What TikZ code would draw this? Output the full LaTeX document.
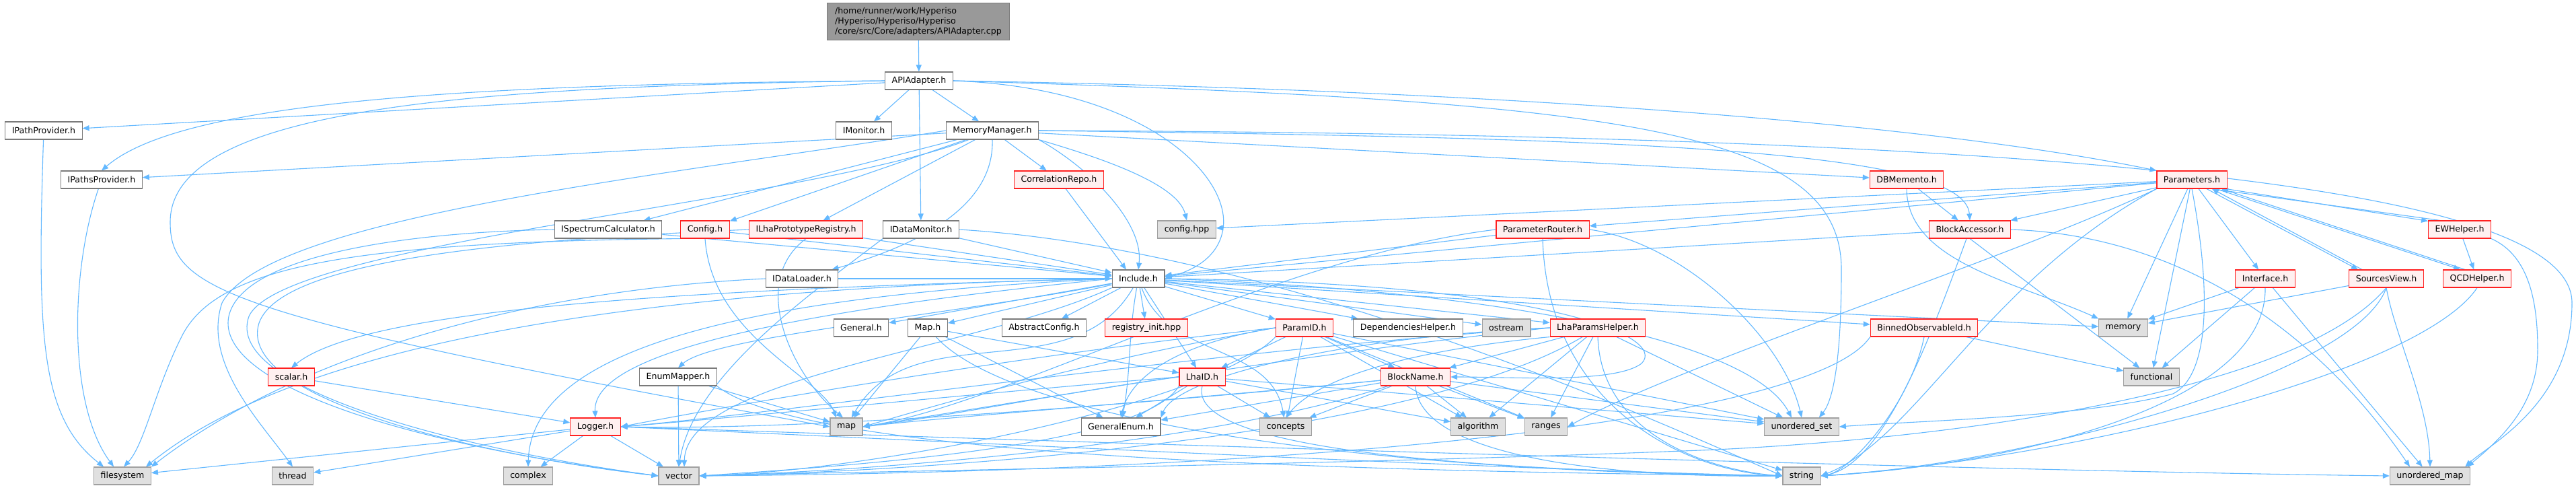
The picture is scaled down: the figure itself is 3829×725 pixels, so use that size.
\documentclass[tikz,border=0pt]{standalone}
\usepackage{fontspec}
\setmainfont{DejaVu Sans}
\usetikzlibrary{arrows.meta}
\definecolor{edgec}{HTML}{63B8FF}
\definecolor{boxline}{HTML}{7A7A7A}
\definecolor{redline}{HTML}{FF2020}
\definecolor{redfill}{HTML}{FFF0F0}
\definecolor{sysline}{HTML}{A0A0A0}
\definecolor{sysfill}{HTML}{E0E0E0}
\definecolor{rootfill}{HTML}{999999}
\pgfdeclarelayer{edges}
\pgfsetlayers{edges,main}
\tikzset{
  box/.style={draw=boxline, fill=white, line width=1.1pt, minimum height=26pt, inner xsep=10pt, inner ysep=0pt, font=\fontsize{12.6}{15}\selectfont},
  redbox/.style={box, draw=redline, fill=redfill},
  sysbox/.style={box, draw=sysline, fill=sysfill},
  rootbox/.style={box, draw=boxline, fill=rootfill, minimum height=55pt, align=left, inner xsep=12pt},
  e/.style={draw=edgec, line width=1.1pt, -{Triangle[length=10pt,width=8pt]}},
}
\begin{document}
\begin{tikzpicture}[x=1pt,y=1pt]
\useasboundingbox (0,0) rectangle (3829,-725);
% nodes
\node[rootbox] (top) at (1365,-32) {/home/runner/work/Hyperiso\\/Hyperiso/Hyperiso/Hyperiso\\/core/src/Core/adapters/APIAdapter.cpp};
\node[box] (api) at (1366,-120) {APIAdapter.h};
\node[box] (ipp) at (65,-194) {IPathProvider.h};
\node[box] (imon) at (1284,-194) {IMonitor.h};
\node[box] (mm) at (1475,-194) {MemoryManager.h};
\node[box] (ipps) at (151,-267) {IPathsProvider.h};
\node[redbox] (corr) at (1574,-267) {CorrelationRepo.h};
\node[redbox] (dbm) at (2834,-267) {DBMemento.h};
\node[redbox] (par) at (3258,-267) {Parameters.h};
\node[box] (isc) at (904,-341) {ISpectrumCalculator.h};
\node[redbox] (cfg) at (1048,-341) {Config.h};
\node[redbox] (ilha) at (1198,-341) {ILhaPrototypeRegistry.h};
\node[box] (idm) at (1369,-341) {IDataMonitor.h};
\node[sysbox] (chpp) at (1764,-341) {config.hpp};
\node[redbox] (prouter) at (2293,-341) {ParameterRouter.h};
\node[redbox] (bacc) at (2928,-341) {BlockAccessor.h};
\node[redbox] (ew) at (3656,-341) {EWHelper.h};
\node[box] (idl) at (1192,-414) {IDataLoader.h};
\node[box] (inc) at (1692,-414) {Include.h};
\node[redbox] (iface) at (3367,-414) {Interface.h};
\node[redbox] (sv) at (3547,-414) {SourcesView.h};
\node[redbox] (qcd) at (3682,-414) {QCDHelper.h};
\node[box] (gen) at (1280,-487) {General.h};
\node[box] (maph) at (1379,-487) {Map.h};
\node[box] (absc) at (1552,-487) {AbstractConfig.h};
\node[redbox] (reg) at (1704,-487) {registry\_init.hpp};
\node[redbox] (pid) at (1939,-487) {ParamID.h};
\node[box] (dep) at (2093,-487) {DependenciesHelper.h};
\node[sysbox] (ost) at (2239,-487) {ostream};
\node[redbox] (lpp) at (2375,-487) {LhaParamsHelper.h};
\node[redbox] (boi) at (2860,-487) {BinnedObservableId.h};
\node[sysbox] (mem) at (3156,-487) {memory};
\node[redbox] (scal) at (433,-560) {scalar.h};
\node[box] (enm) at (1008,-560) {EnumMapper.h};
\node[redbox] (lid) at (1787,-560) {LhaID.h};
\node[redbox] (bn) at (2104,-560) {BlockName.h};
\node[sysbox] (func) at (3198,-560) {functional};
\node[redbox] (log) at (885,-634) {Logger.h};
\node[sysbox] (map) at (1258,-634) {map};
\node[box] (genum) at (1666,-634) {GeneralEnum.h};
\node[sysbox] (conc) at (1911,-634) {concepts};
\node[sysbox] (alg) at (2197,-634) {algorithm};
\node[sysbox] (rng) at (2298,-634) {ranges};
\node[sysbox] (uset) at (2678,-634) {unordered\_set};
\node[sysbox] (fs) at (182,-707) {filesystem};
\node[sysbox] (thr) at (435,-707) {thread};
\node[sysbox] (cpx) at (785,-707) {complex};
\node[sysbox] (vec) at (1009,-707) {vector};
\node[sysbox] (str) at (2678,-707) {string};
\node[sysbox] (umap) at (3612,-707) {unordered\_map};

\begin{pgfonlayer}{edges}
\draw[e] (top) -- (api);
% APIAdapter
\draw[e] (api) -- (ipp);
\draw[e] (api.west) .. controls (700,-125) and (270,-150) .. (ipps.north);
\draw[e] (api.west) .. controls (700,-128) and (253,-160) .. (253,-330) .. controls (253,-430) and (330,-470) .. (map.west);
\draw[e] (api) -- (imon);
\draw[e] (api) -- (mm);
\draw[e] (api) -- (idm);
\draw[e] (api.east) .. controls (1700,-130) and (1830,-260) .. (1818,-340) .. controls (1810,-390) and (1760,-405) .. (inc.east);
\draw[e] (api.east) .. controls (2300,-135) and (2900,-190) .. (par.north west);
\draw[e] (api.east) .. controls (2400,-150) and (2737,-190) .. (2737,-400) .. controls (2737,-560) and (2720,-600) .. ([xshift=-30pt]uset.north east);
% providers
\draw[e] (ipp) .. controls (55,-500) and (60,-620) .. ([xshift=15pt]fs.north west);
\draw[e] (ipps) .. controls (105,-400) and (100,-600) .. ([xshift=30pt]fs.north west);
% MemoryManager
\draw[e] (mm) -- (ipps);
\draw[e] (mm) -- (isc);
\draw[e] (mm) -- (cfg);
\draw[e] (mm) -- (ilha);
\draw[e] (mm) -- (corr);
\draw[e] (mm.south east) .. controls (1620,-230) and (1750,-270) .. (chpp.north);
\draw[e] (mm.south east) .. controls (1620,-250) and (1700,-330) .. (inc.north);
\draw[e] (corr) -- ([xshift=-18pt]inc.north);
\draw[e] (mm) -- (dbm);
\draw[e] (mm.east) .. controls (2400,-205) and (2920,-220) .. (bacc.north);
\draw[e] (mm.east) .. controls (3200,-200) and (3823,-290) .. (3823,-450) .. controls (3823,-600) and (3700,-660) .. ([xshift=-8pt]umap.north east);
\draw[e] (mm.south) .. controls (1478,-300) and (1380,-360) .. ([xshift=-10pt]idl.north east);
\draw[e] (mm.west) .. controls (1000,-260) and (400,-320) .. (330,-450) .. controls (300,-540) and (390,-630) .. (thr.north);
\draw[e] (mm) .. controls (1200,-300) and (420,-360) .. (370,-470) .. controls (330,-580) and (700,-670) .. (vec.west);
% DBMemento
\draw[e] (dbm) -- (bacc);
\draw[e] (dbm.south) .. controls (2835,-390) and (3000,-420) .. (mem.north west);
% ISpectrumCalculator, Config, ILha, IDataMonitor, IDataLoader
\draw[e] (isc) -- (inc);
\draw[e] (isc.west) .. controls (600,-345) and (360,-380) .. (340,-470) .. controls (320,-570) and (600,-660) .. (vec.west);
\draw[e] (cfg) -- (inc);
\draw[e] (cfg.south west) .. controls (500,-360) and (320,-400) .. (270,-500) .. controls (230,-580) and (215,-660) .. ([xshift=45pt]fs.north west);
\draw[e] (cfg.south) .. controls (1058,-500) and (1220,-560) .. ([xshift=-15pt]map.north);
\draw[e] (ilha) -- (inc);
\draw[e] (ilha.west) .. controls (800,-355) and (420,-380) .. (385,-480) .. controls (350,-590) and (700,-675) .. (vec.west);
\draw[e] (ilha.south) .. controls (1110,-420) and (1180,-560) .. ([xshift=-5pt]map.north);
\draw[e] (idm) -- (inc);
\draw[e] (idm.east) .. controls (1900,-370) and (2450,-620) .. (str.west);
\draw[e] (idm.south west) .. controls (1200,-440) and (1030,-560) .. (vec.north);
\draw[e] (idl) -- (inc);
\draw[e] (idl.west) .. controls (800,-430) and (450,-520) .. (fs.north east);
% ParameterRouter, BlockAccessor
\draw[e] (prouter) -- (inc);
\draw[e] (prouter.west) .. controls (1900,-380) and (1500,-600) .. (map.east);
\draw[e] (prouter.east) .. controls (2500,-360) and (2650,-500) .. (uset.north);
\draw[e] (prouter.south) .. controls (2300,-600) and (2500,-700) .. (str.west);
\draw[e] (bacc) -- (inc);
\draw[e] (bacc.south) -- (func);
\draw[e] (bacc.east) .. controls (3250,-350) and (3450,-500) .. ([xshift=-30pt]umap.north);
\draw[e] (bacc) .. controls (2870,-500) and (2800,-690) .. (str.east);
% Parameters
\draw[e] (par) -- (bacc);
\draw[e] (par.-15) -- (ew.165);
\draw[e] (ew.155) -- (par.-25);
\draw[e] (par) -- (chpp);
\draw[e] (par) -- (prouter);
\draw[e] (par) -- (inc);
\draw[e] (par) -- (iface);
\draw[e] ([xshift=22pt]par.south) -- ([xshift=-42pt]sv.north);
\draw[e] ([xshift=-36pt]sv.north) -- ([xshift=30pt]par.south);
\draw[e] ([xshift=36pt]par.south) -- ([xshift=-25pt]qcd.north);
\draw[e] ([xshift=-18pt]qcd.north) -- ([xshift=44pt]par.south);
\draw[e] (par) -- (mem);
\draw[e] (par) -- (func);
\draw[e] (par.south) .. controls (3290,-450) and (3280,-560) .. (3230,-585) .. controls (3100,-620) and (2850,-625) .. (uset.east);
\draw[e] (par.south west) .. controls (3000,-380) and (2500,-540) .. (rng.east);
\draw[e] (par.south west) .. controls (2950,-420) and (2850,-650) .. (str.east);
% EWHelper, Interface, SourcesView, QCDHelper
\draw[e] (ew) -- (qcd);
\draw[e] (ew.south east) .. controls (3760,-380) and (3772,-450) .. (3772,-520) .. controls (3772,-600) and (3720,-650) .. ([xshift=-5pt]umap.north east);
\draw[e] (iface) -- (mem);
\draw[e] (iface) -- (func);
\draw[e] (iface) -- (umap);
\draw[e] (iface.south) .. controls (3370,-600) and (3000,-690) .. (str.east);
\draw[e] (sv) -- (mem);
\draw[e] (sv.south) .. controls (3560,-500) and (3610,-600) .. (umap.north);
\draw[e] (sv.south) .. controls (3500,-560) and (3000,-690) .. (str.east);
\draw[e] (sv.south) .. controls (3400,-600) and (2800,-660) .. (2500,-670) .. controls (2000,-690) and (1300,-700) .. (vec.east);
\draw[e] (qcd.south) .. controls (3600,-550) and (3100,-680) .. (str.east);
% Include
\draw[e] (inc) -- (gen);
\draw[e] (inc) -- (maph);
\draw[e] (inc) -- (absc);
\draw[e] (inc) -- (reg);
\draw[e] (inc) -- (pid);
\draw[e] (inc) -- (dep);
\draw[e] (inc) -- (ost);
\draw[e] (inc) -- (lpp);
\draw[e] (inc) -- (boi);
\draw[e] (inc) -- (mem);
\draw[e] (inc) -- (lid);
\draw[e] (inc) to[out=-70,in=100] (conc);
\draw[e] (inc.east) .. controls (2300,-420) and (2480,-500) .. (2440,-540) .. controls (2400,-570) and (2250,-560) .. (bn.east);
\draw[e] (inc.west) .. controls (1000,-430) and (540,-460) .. (scal.north);
\draw[e] (inc.west) .. controls (1100,-425) and (480,-480) .. ([xshift=-8pt]fs.north east);
\draw[e] (inc) .. controls (1400,-470) and (1060,-500) .. (enm.north);
\draw[e] (inc.west) .. controls (1200,-460) and (880,-520) .. (log.north);
\draw[e] (inc.west) .. controls (1100,-440) and (790,-520) .. (cpx.north);
\draw[e] (inc.south west) .. controls (1450,-520) and (1020,-560) .. ([xshift=8pt]vec.north);
\draw[e] (inc) to[out=-120,in=60] (map);
\draw[e] (inc) to[out=-100,in=80] (genum);
\draw[e] (inc.east) .. controls (2200,-430) and (2600,-500) .. ([xshift=-15pt]uset.north);
% ParamID
\draw[e] (pid) -- (lid);
\draw[e] (pid) -- (bn);
\draw[e] (pid.west) .. controls (1750,-510) and (1680,-560) .. (genum.north);
\draw[e] (pid) -- (conc);
\draw[e] (pid) -- (alg);
\draw[e] (pid) -- (rng);
\draw[e] (pid) -- (uset);
\draw[e] (pid) -- (str);
\draw[e] (pid.west) .. controls (1500,-530) and (1100,-600) .. (log.east);
\draw[e] (pid.south west) .. controls (1800,-600) and (1300,-700) .. (vec.east);
\draw[e] (pid.west) .. controls (1600,-540) and (1400,-600) .. (map.east);
% LhaID
\draw[e] (lid) -- (genum);
\draw[e] (lid) -- (conc);
\draw[e] (lid) -- (alg);
\draw[e] (lid) -- (uset);
\draw[e] (lid.south) .. controls (1760,-680) and (2300,-700) .. (str.west);
\draw[e] (lid.west) .. controls (1500,-580) and (1100,-620) .. (log.east);
\draw[e] (lid.south west) .. controls (1700,-660) and (1300,-690) .. (vec.east);
\draw[e] (lid.west) .. controls (1600,-580) and (1400,-620) .. (map.east);
% BlockName
\draw[e] (bn) -- (genum);
\draw[e] (bn) -- (conc);
\draw[e] (bn) -- (alg);
\draw[e] (bn) -- (rng);
\draw[e] (bn) -- (uset);
\draw[e] (bn.south) .. controls (2110,-680) and (2400,-710) .. (str.west);
\draw[e] (bn) .. controls (1700,-600) and (1200,-640) .. (log.east);
\draw[e] (bn) .. controls (1800,-660) and (1300,-700) .. (vec.east);
\draw[e] (bn) .. controls (1800,-590) and (1400,-620) .. (map.east);
% LhaParamsHelper
\draw[e] (lpp) -- (bn);
\draw[e] (lpp) -- (alg);
\draw[e] (lpp) -- (rng);
\draw[e] (lpp) -- (uset);
\draw[e] (lpp.south west) .. controls (2100,-520) and (1960,-560) .. (conc.north);
\draw[e] (lpp.west) .. controls (2000,-500) and (1750,-560) .. (genum.north east);
\draw[e] (lpp.south) .. controls (2380,-650) and (2550,-700) .. (str.west);
\draw[e] (lpp.west) .. controls (1800,-520) and (1200,-610) .. (log.east);
\draw[e] (lpp.west) .. controls (1900,-530) and (1500,-600) .. (map.east);
\draw[e] (lpp) .. controls (2100,-650) and (1400,-700) .. (vec.east);
% BinnedObservableId
\draw[e] (boi) -- (func);
\draw[e] (boi.south) .. controls (2840,-600) and (2750,-700) .. (str.east);
\draw[e] (boi.south west) .. controls (2700,-620) and (2000,-700) .. (vec.east);
% Map.h, EnumMapper, scalar, Logger
\draw[e] (maph) -- (genum);
\draw[e] (maph) -- (lid);
\draw[e] (maph) -- (map);
\draw[e] (maph) .. controls (1500,-620) and (2000,-700) .. (str.west);
\draw[e] (enm) -- (vec);
\draw[e] (enm) -- (map);
\draw[e] (enm.south east) .. controls (1200,-680) and (2000,-700) .. (str.west);
\draw[e] (scal) -- (log);
\draw[e] (log) -- (fs);
\draw[e] (log) -- (thr);
\draw[e] (log) -- (cpx);
\draw[e] (log) -- (vec);
\draw[e] (log.east) .. controls (1500,-660) and (2300,-700) .. (str.west);
\draw[e] (log.east) .. controls (2000,-670) and (3000,-700) .. (umap.west);
\end{pgfonlayer}
\end{tikzpicture}
\end{document}
